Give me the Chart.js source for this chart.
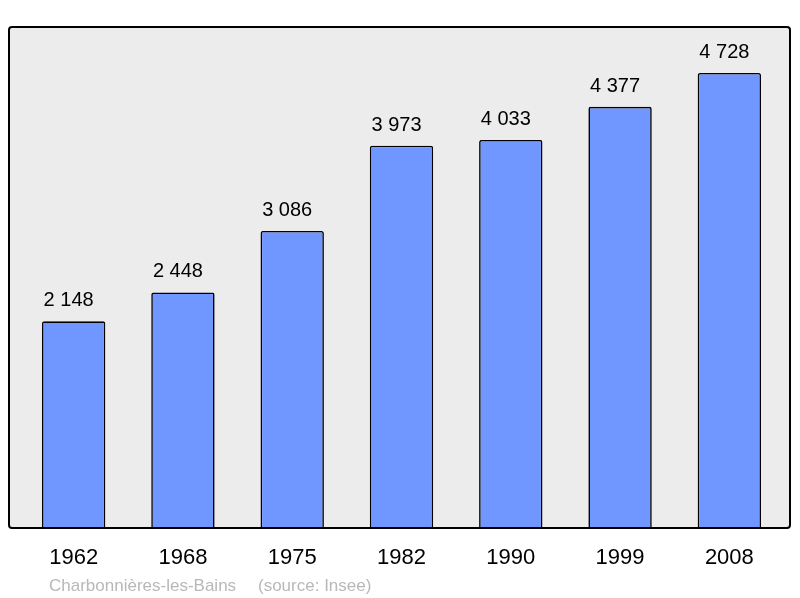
<!DOCTYPE html>
<html>
<head>
<meta charset="utf-8">
<script src="https://cdn.jsdelivr.net/npm/chart.js@4/dist/chart.umd.min.js"></script>
<style>
  html, body { margin: 0; padding: 0; background: #fff; }
  #wrap { width: 800px; height: 598px; }
</style>
</head>
<body>
<div id="wrap"><canvas id="chart" width="800" height="598"></canvas></div>
<script>
const years = ['1962', '1968', '1975', '1982', '1990', '1999', '2008'];
const population = [2148, 2448, 3086, 3973, 4033, 4377, 4728];
const townName = 'Charbonnières-les-Bains';
const sourceText = '(source: Insee)';

// "2 148" style thousands separator
function formatValue(v) {
  return String(v).replace(/\B(?=(\d{3})+(?!\d))/g, ' ');
}

// grey framed box behind the bars, wider than the category scale
const frame = {
  id: 'frame',
  beforeDraw(chart) {
    const { ctx, chartArea } = chart;
    ctx.save();
    ctx.beginPath();
    ctx.roundRect(9, chartArea.top, 790 - 9, chartArea.bottom - chartArea.top, 3);
    ctx.fillStyle = '#ececec';
    ctx.fill();
    ctx.restore();
  },
  afterDatasetsDraw(chart) {
    const { ctx, chartArea } = chart;
    ctx.save();
    ctx.beginPath();
    ctx.roundRect(9, chartArea.top, 790 - 9, chartArea.bottom - chartArea.top, 3);
    ctx.lineWidth = 2;
    ctx.strokeStyle = '#000';
    ctx.stroke();
    ctx.restore();
  }
};

const valueLabels = {
  id: 'valueLabels',
  afterDatasetsDraw(chart) {
    const { ctx } = chart;
    const meta = chart.getDatasetMeta(0);
    ctx.save();
    ctx.font = '20px "Liberation Sans", Arial, sans-serif';
    ctx.fillStyle = '#000';
    ctx.textAlign = 'center';
    ctx.textBaseline = 'alphabetic';
    meta.data.forEach((bar, i) => {
      // labels sit slightly left of the bar centre in the original
      ctx.fillText(formatValue(population[i]), bar.x - 5, bar.y - 15);
    });
    ctx.restore();
  }
};

const footer = {
  id: 'footer',
  afterDraw(chart) {
    const { ctx } = chart;
    ctx.save();
    ctx.font = '17px "Liberation Sans", Arial, sans-serif';
    ctx.fillStyle = '#b8b8b8';
    ctx.textBaseline = 'alphabetic';
    ctx.fillText(townName, 49, 591);
    ctx.fillText(sourceText, 258, 591);
    ctx.restore();
  }
};

new Chart(document.getElementById('chart'), {
  type: 'bar',
  data: {
    labels: years,
    datasets: [{
      data: population,
      backgroundColor: '#7097ff',
      borderColor: '#000',
      borderWidth: 1.6,
      borderRadius: 2,
      borderSkipped: 'bottom',
      categoryPercentage: 1,
      barPercentage: 0.58
    }]
  },
  options: {
    responsive: false,
    animation: false,
    layout: { padding: { left: 19, right: 16, top: 27, bottom: 0 } },
    plugins: {
      legend: { display: false },
      tooltip: { enabled: false }
    },
    scales: {
      x: {
        grid: { display: false, drawTicks: false },
        border: { display: false },
        ticks: {
          color: '#000',
          padding: 17,
          font: { size: 22, family: '"Liberation Sans", Arial, sans-serif' }
        },
        afterFit(scale) { scale.height = 70; }
      },
      y: {
        display: false,
        min: 0,
        max: 5206
      }
    }
  },
  plugins: [frame, valueLabels, footer]
});
</script>
</body>
</html>
